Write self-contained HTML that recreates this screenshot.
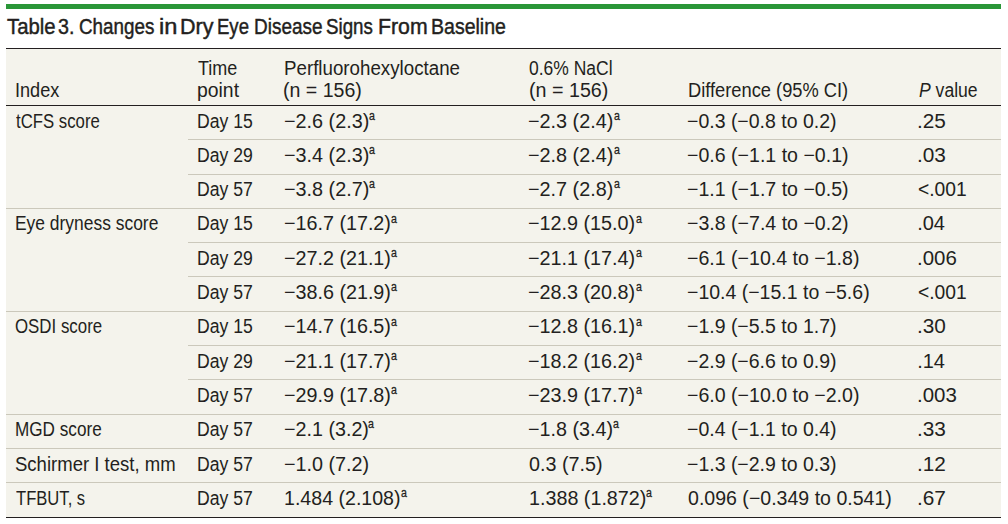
<!DOCTYPE html>
<html><head><meta charset="utf-8"><title>Table 3</title>
<style>
html,body{margin:0;padding:0;background:#fff;width:1008px;height:524px;overflow:hidden}
body{position:relative;font-family:"Liberation Sans",sans-serif;color:#231f20}
.g{position:absolute;left:6px;top:4px;width:995px;height:5px;background:#2a9638}
.bg{position:absolute;left:6px;top:49px;width:995px;height:468px;background:#f4f3ec}
.dk{position:absolute;left:6px;width:995px;height:1px;background:#231f20}
.lt{position:absolute;height:1px;background:#cbc8bb}
.t{position:absolute;white-space:pre;line-height:1;transform-origin:0 0}
.s{position:absolute;white-space:pre;line-height:1;font-size:12.5px;transform:scaleX(0.85);transform-origin:0 0;-webkit-text-stroke:0.3px #231f20}
.ti{-webkit-text-stroke:0.45px #231f20}
</style></head><body>
<div class="g"></div>
<div class="bg"></div>
<div class="dk" style="top:48px"></div>
<div class="dk" style="top:105px"></div>
<div class="dk" style="top:517px"></div>
<div class="lt" style="top:139px;left:188px;width:813px"></div>
<div class="lt" style="top:174px;left:188px;width:813px"></div>
<div class="lt" style="top:208px;left:6px;width:995px"></div>
<div class="lt" style="top:242px;left:188px;width:813px"></div>
<div class="lt" style="top:276px;left:188px;width:813px"></div>
<div class="lt" style="top:311px;left:6px;width:995px"></div>
<div class="lt" style="top:345px;left:188px;width:813px"></div>
<div class="lt" style="top:379px;left:188px;width:813px"></div>
<div class="lt" style="top:414px;left:6px;width:995px"></div>
<div class="lt" style="top:448px;left:6px;width:995px"></div>
<div class="lt" style="top:482px;left:6px;width:995px"></div>
<div class="t ti" style="left:6.50px;top:16.18px;font-size:22.0px;transform:scaleX(0.9231)">Table</div>
<div class="t ti" style="left:58.01px;top:16.18px;font-size:22.0px;transform:scaleX(0.8938)">3.</div>
<div class="t ti" style="left:78.64px;top:16.18px;font-size:22.0px;transform:scaleX(0.8552)">Changes</div>
<div class="t ti" style="left:158.73px;top:16.18px;font-size:22.0px;transform:scaleX(1.0733)">in</div>
<div class="t ti" style="left:179.64px;top:16.18px;font-size:22.0px;transform:scaleX(0.9781)">Dry</div>
<div class="t ti" style="left:217.41px;top:16.18px;font-size:22.0px;transform:scaleX(0.8429)">Eye</div>
<div class="t ti" style="left:253.68px;top:16.18px;font-size:22.0px;transform:scaleX(0.8623)">Disease</div>
<div class="t ti" style="left:326.15px;top:16.18px;font-size:22.0px;transform:scaleX(0.8519)">Signs</div>
<div class="t ti" style="left:378.27px;top:16.18px;font-size:22.0px;transform:scaleX(0.9667)">From</div>
<div class="t ti" style="left:431.42px;top:16.18px;font-size:22.0px;transform:scaleX(0.8878)">Baseline</div>
<div class="t" style="left:15.39px;top:79.97px;font-size:20.0px;transform:scaleX(0.9064)">Index</div>
<div class="t" style="left:198.00px;top:57.97px;font-size:20.0px;transform:scaleX(0.9000)">Time</div>
<div class="t" style="left:197.03px;top:79.97px;font-size:20.0px;transform:scaleX(0.9690)">point</div>
<div class="t" style="left:283.86px;top:57.87px;font-size:20.0px;transform:scaleX(0.9366)">Perfluorohexyloctane</div>
<div class="t" style="left:283.42px;top:79.87px;font-size:20.0px;transform:scaleX(0.9772)">(n = 156)</div>
<div class="t" style="left:528.63px;top:57.97px;font-size:20.0px;transform:scaleX(0.8745)">0.6% NaCl</div>
<div class="t" style="left:528.52px;top:79.87px;font-size:20.0px;transform:scaleX(0.9848)">(n = 156)</div>
<div class="t" style="left:687.99px;top:79.97px;font-size:20.0px;transform:scaleX(0.9139)">Difference (95% CI)</div>
<div class="t" style="left:918.70px;top:79.97px;font-size:20.0px;transform:scaleX(0.8788)"><i>P</i> value</div>
<div class="t" style="left:15.50px;top:110.87px;font-size:20.0px;transform:scaleX(0.8380)">tCFS score</div>
<div class="t" style="left:197.12px;top:110.87px;font-size:20.0px;transform:scaleX(0.8806)">Day 15</div>
<div class="t" style="left:283.51px;top:110.87px;font-size:20.0px;transform:scaleX(0.9893)">−2.6 (2.3)</div>
<div class="t" style="left:528.31px;top:110.87px;font-size:20.0px;transform:scaleX(0.9905)">−2.3 (2.4)</div>
<div class="t" style="left:687.13px;top:110.87px;font-size:20.0px;transform:scaleX(0.9743)">−0.3 (−0.8 to 0.2)</div>
<div class="t" style="left:917.12px;top:110.87px;font-size:20.0px;transform:scaleX(1.0400)">.25</div>
<div class="t" style="left:197.12px;top:144.87px;font-size:20.0px;transform:scaleX(0.8806)">Day 29</div>
<div class="t" style="left:283.51px;top:144.87px;font-size:20.0px;transform:scaleX(0.9893)">−3.4 (2.3)</div>
<div class="t" style="left:528.31px;top:144.87px;font-size:20.0px;transform:scaleX(0.9905)">−2.8 (2.4)</div>
<div class="t" style="left:687.12px;top:144.87px;font-size:20.0px;transform:scaleX(0.9785)">−0.6 (−1.1 to −0.1)</div>
<div class="t" style="left:917.12px;top:144.87px;font-size:20.0px;transform:scaleX(1.0400)">.03</div>
<div class="t" style="left:197.12px;top:178.87px;font-size:20.0px;transform:scaleX(0.8806)">Day 57</div>
<div class="t" style="left:283.51px;top:178.87px;font-size:20.0px;transform:scaleX(0.9893)">−3.8 (2.7)</div>
<div class="t" style="left:528.31px;top:178.87px;font-size:20.0px;transform:scaleX(0.9905)">−2.7 (2.8)</div>
<div class="t" style="left:687.12px;top:178.87px;font-size:20.0px;transform:scaleX(0.9785)">−1.1 (−1.7 to −0.5)</div>
<div class="t" style="left:918.24px;top:178.87px;font-size:20.0px;transform:scaleX(0.9633)">&lt;.001</div>
<div class="t" style="left:15.13px;top:212.87px;font-size:20.0px;transform:scaleX(0.8712)">Eye dryness score</div>
<div class="t" style="left:197.12px;top:212.87px;font-size:20.0px;transform:scaleX(0.8806)">Day 15</div>
<div class="t" style="left:283.51px;top:212.87px;font-size:20.0px;transform:scaleX(0.9860)">−16.7 (17.2)</div>
<div class="t" style="left:528.31px;top:212.87px;font-size:20.0px;transform:scaleX(0.9879)">−12.9 (15.0)</div>
<div class="t" style="left:687.12px;top:212.87px;font-size:20.0px;transform:scaleX(0.9785)">−3.8 (−7.4 to −0.2)</div>
<div class="t" style="left:917.20px;top:212.87px;font-size:20.0px;transform:scaleX(1.0000)">.04</div>
<div class="t" style="left:197.12px;top:247.87px;font-size:20.0px;transform:scaleX(0.8806)">Day 29</div>
<div class="t" style="left:283.51px;top:247.87px;font-size:20.0px;transform:scaleX(0.9860)">−27.2 (21.1)</div>
<div class="t" style="left:528.31px;top:247.87px;font-size:20.0px;transform:scaleX(0.9879)">−21.1 (17.4)</div>
<div class="t" style="left:687.12px;top:247.87px;font-size:20.0px;transform:scaleX(0.9782)">−6.1 (−10.4 to −1.8)</div>
<div class="t" style="left:917.16px;top:247.87px;font-size:20.0px;transform:scaleX(1.0222)">.006</div>
<div class="t" style="left:197.12px;top:281.87px;font-size:20.0px;transform:scaleX(0.8806)">Day 57</div>
<div class="t" style="left:283.51px;top:281.87px;font-size:20.0px;transform:scaleX(0.9860)">−38.6 (21.9)</div>
<div class="t" style="left:528.31px;top:281.87px;font-size:20.0px;transform:scaleX(0.9879)">−28.3 (20.8)</div>
<div class="t" style="left:687.13px;top:281.87px;font-size:20.0px;transform:scaleX(0.9747)">−10.4 (−15.1 to −5.6)</div>
<div class="t" style="left:918.24px;top:281.87px;font-size:20.0px;transform:scaleX(0.9633)">&lt;.001</div>
<div class="t" style="left:15.16px;top:315.87px;font-size:20.0px;transform:scaleX(0.8431)">OSDI score</div>
<div class="t" style="left:197.12px;top:315.87px;font-size:20.0px;transform:scaleX(0.8806)">Day 15</div>
<div class="t" style="left:283.51px;top:315.87px;font-size:20.0px;transform:scaleX(0.9860)">−14.7 (16.5)</div>
<div class="t" style="left:528.31px;top:315.87px;font-size:20.0px;transform:scaleX(0.9879)">−12.8 (16.1)</div>
<div class="t" style="left:687.13px;top:315.87px;font-size:20.0px;transform:scaleX(0.9743)">−1.9 (−5.5 to 1.7)</div>
<div class="t" style="left:917.12px;top:315.87px;font-size:20.0px;transform:scaleX(1.0400)">.30</div>
<div class="t" style="left:197.12px;top:350.87px;font-size:20.0px;transform:scaleX(0.8806)">Day 29</div>
<div class="t" style="left:283.51px;top:350.87px;font-size:20.0px;transform:scaleX(0.9860)">−21.1 (17.7)</div>
<div class="t" style="left:528.31px;top:350.87px;font-size:20.0px;transform:scaleX(0.9879)">−18.2 (16.2)</div>
<div class="t" style="left:687.13px;top:350.87px;font-size:20.0px;transform:scaleX(0.9743)">−2.9 (−6.6 to 0.9)</div>
<div class="t" style="left:917.20px;top:350.87px;font-size:20.0px;transform:scaleX(1.0000)">.14</div>
<div class="t" style="left:197.12px;top:384.87px;font-size:20.0px;transform:scaleX(0.8806)">Day 57</div>
<div class="t" style="left:283.51px;top:384.87px;font-size:20.0px;transform:scaleX(0.9860)">−29.9 (17.8)</div>
<div class="t" style="left:528.31px;top:384.87px;font-size:20.0px;transform:scaleX(0.9879)">−23.9 (17.7)</div>
<div class="t" style="left:687.12px;top:384.87px;font-size:20.0px;transform:scaleX(0.9782)">−6.0 (−10.0 to −2.0)</div>
<div class="t" style="left:917.16px;top:384.87px;font-size:20.0px;transform:scaleX(1.0222)">.003</div>
<div class="t" style="left:15.14px;top:418.87px;font-size:20.0px;transform:scaleX(0.8570)">MGD score</div>
<div class="t" style="left:197.12px;top:418.87px;font-size:20.0px;transform:scaleX(0.8806)">Day 57</div>
<div class="t" style="left:283.51px;top:418.87px;font-size:20.0px;transform:scaleX(0.9857)">−2.1 (3.2)</div>
<div class="t" style="left:528.31px;top:418.87px;font-size:20.0px;transform:scaleX(0.9869)">−1.8 (3.4)</div>
<div class="t" style="left:687.13px;top:418.87px;font-size:20.0px;transform:scaleX(0.9743)">−0.4 (−1.1 to 0.4)</div>
<div class="t" style="left:917.12px;top:418.87px;font-size:20.0px;transform:scaleX(1.0400)">.33</div>
<div class="t" style="left:15.07px;top:453.87px;font-size:20.0px;transform:scaleX(0.9263)">Schirmer I test, mm</div>
<div class="t" style="left:197.12px;top:453.87px;font-size:20.0px;transform:scaleX(0.8806)">Day 57</div>
<div class="t" style="left:283.51px;top:453.87px;font-size:20.0px;transform:scaleX(0.9881)">−1.0 (7.2)</div>
<div class="t" style="left:528.61px;top:453.87px;font-size:20.0px;transform:scaleX(0.9863)">0.3 (7.5)</div>
<div class="t" style="left:687.13px;top:453.87px;font-size:20.0px;transform:scaleX(0.9743)">−1.3 (−2.9 to 0.3)</div>
<div class="t" style="left:917.12px;top:453.87px;font-size:20.0px;transform:scaleX(1.0400)">.12</div>
<div class="t" style="left:16.00px;top:487.87px;font-size:20.0px;transform:scaleX(0.8301)">TFBUT, s</div>
<div class="t" style="left:197.12px;top:487.87px;font-size:20.0px;transform:scaleX(0.8806)">Day 57</div>
<div class="t" style="left:284.22px;top:487.87px;font-size:20.0px;transform:scaleX(0.9795)">1.484 (2.108)</div>
<div class="t" style="left:528.61px;top:487.87px;font-size:20.0px;transform:scaleX(0.9863)">1.388 (1.872)</div>
<div class="t" style="left:687.52px;top:487.87px;font-size:20.0px;transform:scaleX(0.9778)">0.096 (−0.349 to 0.541)</div>
<div class="t" style="left:917.12px;top:487.87px;font-size:20.0px;transform:scaleX(1.0400)">.67</div>
<div class="s" style="left:368.60px;top:109.70px">a</div>
<div class="s" style="left:613.50px;top:109.70px">a</div>
<div class="s" style="left:368.60px;top:143.70px">a</div>
<div class="s" style="left:613.50px;top:143.70px">a</div>
<div class="s" style="left:368.60px;top:177.70px">a</div>
<div class="s" style="left:613.50px;top:177.70px">a</div>
<div class="s" style="left:391.00px;top:212.70px">a</div>
<div class="s" style="left:636.00px;top:212.70px">a</div>
<div class="s" style="left:391.00px;top:246.70px">a</div>
<div class="s" style="left:636.00px;top:246.70px">a</div>
<div class="s" style="left:391.00px;top:280.70px">a</div>
<div class="s" style="left:636.00px;top:280.70px">a</div>
<div class="s" style="left:391.00px;top:315.70px">a</div>
<div class="s" style="left:636.00px;top:315.70px">a</div>
<div class="s" style="left:391.00px;top:349.70px">a</div>
<div class="s" style="left:636.00px;top:349.70px">a</div>
<div class="s" style="left:391.00px;top:383.70px">a</div>
<div class="s" style="left:636.00px;top:383.70px">a</div>
<div class="s" style="left:368.30px;top:417.70px">a</div>
<div class="s" style="left:613.20px;top:417.70px">a</div>
<div class="s" style="left:400.80px;top:486.70px">a</div>
<div class="s" style="left:646.00px;top:486.70px">a</div>
</body></html>
